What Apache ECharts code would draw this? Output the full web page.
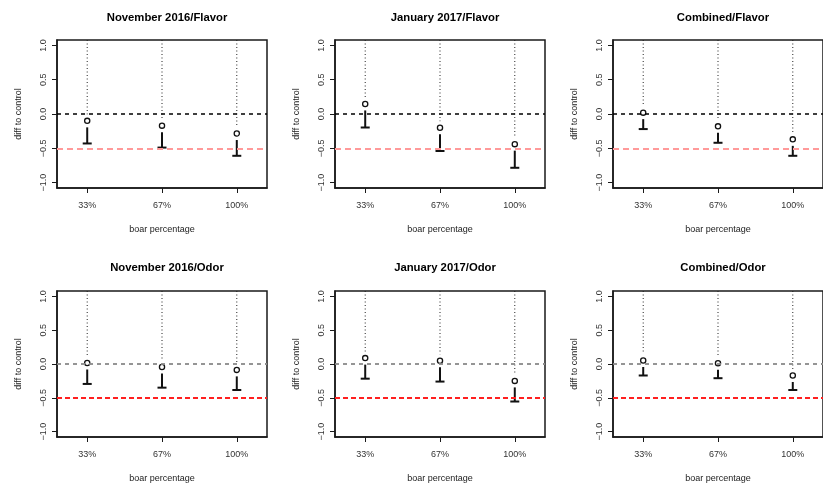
<!DOCTYPE html>
<html>
<head>
<meta charset="utf-8">
<script src="https://cdn.jsdelivr.net/npm/echarts@6/dist/echarts.min.js"></script>
<style>
html,body{margin:0;padding:0;background:#fff;}
#chart{width:823px;height:484px;}
</style>
</head>
<body>
<div id="chart"></div>
<script>
// ---- data ----
const categories = ['33%', '67%', '100%'];
const xPositions = [1, 2, 3];
const yTicks = [-1, -0.5, 0, 0.5, 1];
const referenceLines = [0, -0.5];
const panelTitles = ['November 2016/Flavor', 'January 2017/Flavor', 'Combined/Flavor',
                     'November 2016/Odor', 'January 2017/Odor', 'Combined/Odor'];

const novFlavorEst = [-0.10, -0.17, -0.285];
const novFlavorLow = [-0.43, -0.49, -0.61];
const janFlavorEst = [0.147, -0.20, -0.44];
const janFlavorLow = [-0.197, -0.54, -0.785];
const combFlavorEst = [0.02, -0.18, -0.37];
const combFlavorLow = [-0.22, -0.42, -0.61];
const novOdorEst = [0.015, -0.045, -0.087];
const novOdorLow = [-0.295, -0.35, -0.385];
const janOdorEst = [0.087, 0.048, -0.25];
const janOdorLow = [-0.217, -0.26, -0.555];
const combOdorEst = [0.052, 0.01, -0.17];
const combOdorLow = [-0.17, -0.21, -0.385];

const estimates = [novFlavorEst, janFlavorEst, combFlavorEst, novOdorEst, janOdorEst, combOdorEst];
const lowers = [novFlavorLow, janFlavorLow, combFlavorLow, novOdorLow, janOdorLow, combOdorLow];

// ---- layout / style ----
const X_MIN = 0.596, X_MAX = 3.404, Y_MIN = -1.08, Y_MAX = 1.08;
const gridLefts = [57, 335, 613];
const gridTops = [40, 291];
const GW = 210, GH = 148;
const fontFam = '"Liberation Sans", Arial, Helvetica, sans-serif';
const minusFmt = v => {
  const s = Math.abs(v).toFixed(1);
  return (v < -1e-9 ? '\u2212' : '') + s;
};

const grids = [], xAxes = [], yAxes = [], series = [], titles = [];
for (let p = 0; p < 6; p++) {
  const row = Math.floor(p / 3), col = p % 3;
  const isOdor = row === 1;
  const left = gridLefts[col], top = gridTops[row];
  grids.push({left: left, top: top, width: GW, height: GH, show: true,
              borderColor: '#1a1a1a', borderWidth: 1.5, backgroundColor: 'transparent'});
  titles.push({text: panelTitles[p], left: left + GW / 2, top: row === 0 ? 7 : 257,
               textAlign: 'center',
               textStyle: {fontFamily: fontFam, fontSize: 11.3, fontWeight: 'bold', color: '#000'}});
  xAxes.push({
    type: 'value', gridIndex: p, min: X_MIN, max: X_MAX, position: 'bottom',
    name: 'boar percentage', nameLocation: 'middle', nameGap: 37,
    nameTextStyle: {fontFamily: fontFam, fontSize: 9, color: '#222'},
    axisLine: {show: true, onZero: false, lineStyle: {color: '#1a1a1a', width: 1.5}},
    axisTick: {show: true, length: 5, customValues: xPositions, lineStyle: {color: '#1a1a1a', width: 1}},
    axisLabel: {show: true, margin: 13, customValues: xPositions, fontFamily: fontFam, fontSize: 9, color: '#333',
                formatter: v => categories[xPositions.indexOf(Math.round(v))]},
    splitLine: {show: false}
  });
  yAxes.push({
    type: 'value', gridIndex: p, min: Y_MIN, max: Y_MAX, position: 'left',
    name: 'diff to control', nameLocation: 'middle', nameGap: 34, nameRotate: 90,
    nameTextStyle: {fontFamily: fontFam, fontSize: 9, color: '#222'},
    axisLine: {show: true, onZero: false, lineStyle: {color: '#1a1a1a', width: 1.5}},
    axisTick: {show: true, length: 5, customValues: yTicks, lineStyle: {color: '#1a1a1a', width: 1}},
    axisLabel: {show: true, rotate: 90, margin: 9, customValues: yTicks, fontFamily: fontFam, fontSize: 9, color: '#333',
                formatter: minusFmt},
    splitLine: {show: false}
  });

  // reference lines
  series.push({
    type: 'line', xAxisIndex: p, yAxisIndex: p, data: [], silent: true,
    markLine: {
      symbol: ['none', 'none'], silent: true, label: {show: false}, animation: false,
      data: [
        {yAxis: referenceLines[0], lineStyle: isOdor
          ? {color: '#8a8a8a', width: 1.8, type: [4, 4]}
          : {color: '#000', width: 1.5, type: [4, 4]}},
        {yAxis: referenceLines[1], lineStyle: isOdor
          ? {color: '#ff2020', width: 2, type: [5, 3]}
          : {color: '#ff9a9a', width: 2, type: [6, 4]}}
      ]
    }
  });

  // one-sided intervals
  const est = estimates[p], low = lowers[p];
  const data = xPositions.map((x, i) => [x, est[i], low[i]]);
  series.push({
    type: 'custom', xAxisIndex: p, yAxisIndex: p, data: data, animation: false, clip: true,
    renderItem: function (params, api) {
      const x = api.value(0), e = api.value(1), l = api.value(2);
      const pe = api.coord([x, e]);
      const pl = api.coord([x, l]);
      const pt = api.coord([x, Y_MAX]);
      const gap = 6.5;
      return {
        type: 'group',
        children: [
          {type: 'line', shape: {x1: pe[0], y1: pt[1], x2: pe[0], y2: pe[1] - gap},
           style: {stroke: '#222', lineWidth: 1, lineDash: [1, 2.5]}},
          {type: 'line', shape: {x1: pe[0], y1: pe[1] + gap, x2: pl[0], y2: pl[1]},
           style: {stroke: '#111', lineWidth: 2}},
          {type: 'line', shape: {x1: pl[0] - 4.5, y1: pl[1], x2: pl[0] + 4.5, y2: pl[1]},
           style: {stroke: '#111', lineWidth: 2}},
          {type: 'circle', shape: {cx: pe[0], cy: pe[1], r: 2.6},
           style: {stroke: '#111', lineWidth: 1.3, fill: 'none'}}
        ]
      };
    }
  });
}

const chart = echarts.init(document.getElementById('chart'), null, {renderer: 'canvas'});
chart.setOption({
  animation: false,
  backgroundColor: '#fff',
  title: titles,
  grid: grids,
  xAxis: xAxes,
  yAxis: yAxes,
  series: series
});
</script>
</body>
</html>
